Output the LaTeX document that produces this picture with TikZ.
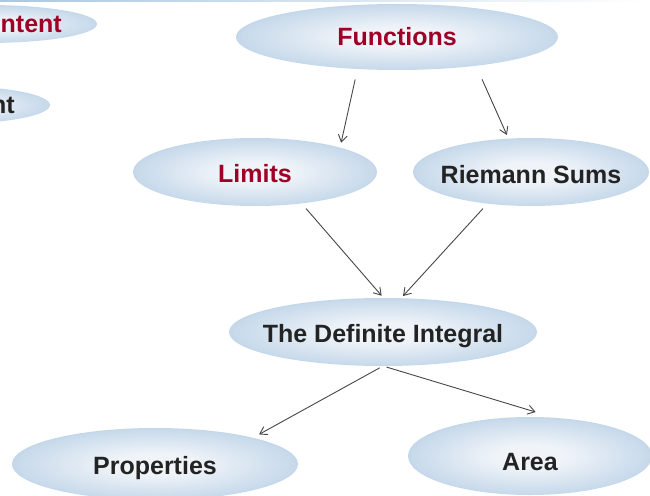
\documentclass[tikz,border=0pt]{standalone}
\usepackage{fontspec}
\setmainfont{Liberation Sans}
\usetikzlibrary{shapes.geometric}
\usetikzlibrary{arrows.meta}
\definecolor{bubin}{RGB}{240,244,249}
\definecolor{bubmid}{RGB}{200,218,235}
\definecolor{bubout}{RGB}{150,186,216}
\definecolor{darkred}{RGB}{158,0,38}
\definecolor{darktext}{RGB}{35,35,35}
\definecolor{arrgray}{RGB}{70,70,70}
\pgfdeclareradialshading{bubble}{\pgfpointorigin}{color(0bp)=(bubin); color(7bp)=(bubin); color(24bp)=(bubmid); color(35bp)=(bubout); color(50bp)=(bubout)}
% text of fixed size, lowered by #1
\newcommand{\bubtext}[2][1pt]{\makebox[0pt]{\raisebox{-#1}[18pt][0pt]{#2}}}

\begin{document}
\begin{tikzpicture}[line cap=round,line join=round,>={Straight Barb[length=7pt,width=9pt]},x=1pt,y=-1pt,
  bub/.style={ellipse,shading=bubble,inner sep=0pt,outer sep=0pt,font=\fontsize{25}{30}\selectfont\bfseries,text=darktext},
  arr/.style={->,draw=arrgray,line width=0.9pt}]
\useasboundingbox (0,0) rectangle (650,495);
\shade[left color=bubout!80,right color=white] (0,0) rectangle (650,2);
% cut off at the left edge
\node[bub,minimum width=220pt,minimum height=38pt] (cnt) at (-13,24) {};
\node[font=\fontsize{25}{30}\selectfont\bfseries,text=darkred,inner sep=0pt,anchor=east] (cntT) at (62,24) {ntent};
\node[bub,minimum width=200pt,minimum height=38pt] (nt) at (-50,105) {};
\node[font=\fontsize{25}{30}\selectfont\bfseries,text=darktext,inner sep=0pt,anchor=east] (ntT) at (15,105) {nt};
% main map
\node[bub,text=darkred,minimum width=322pt,minimum height=66pt] (fn) at (397,37) {\bubtext[0pt]{Functions}};
\node[bub,text=darkred,minimum width=244pt,minimum height=68pt] (lim) at (255,172) {\bubtext{Limits}};
\node[bub,minimum width=236pt,minimum height=68pt] (rs) at (531,172) {\bubtext[2pt]{Riemann Sums}};
\node[bub,minimum width=308pt,minimum height=68pt] (di) at (383,332) {\bubtext{The Definite Integral}};
\node[bub,minimum width=286pt,minimum height=72pt] (prop) at (155,464) {\bubtext{Properties}};
\node[bub,minimum width=244pt,minimum height=78pt] (area) at (530,456) {\bubtext[5pt]{Area}};
\draw[arr,shorten <=11pt,shorten >=5pt] (fn.219) -- (lim.16);
\draw[arr,shorten <=15pt,shorten >=4pt] (fn.340) -- (rs.124);
\draw[arr,shorten <=7pt,shorten >=3pt] (lim.326) -- (di.89);
\draw[arr,shorten <=7pt,shorten >=3pt] (rs.216) -- (di.62);
\draw[arr,shorten <=4pt,shorten >=7pt] (di.south) -- (prop.15);
\draw[arr,shorten <=4pt,shorten >=20pt] (di.south) -- (area.57);
\end{tikzpicture}
\end{document}
